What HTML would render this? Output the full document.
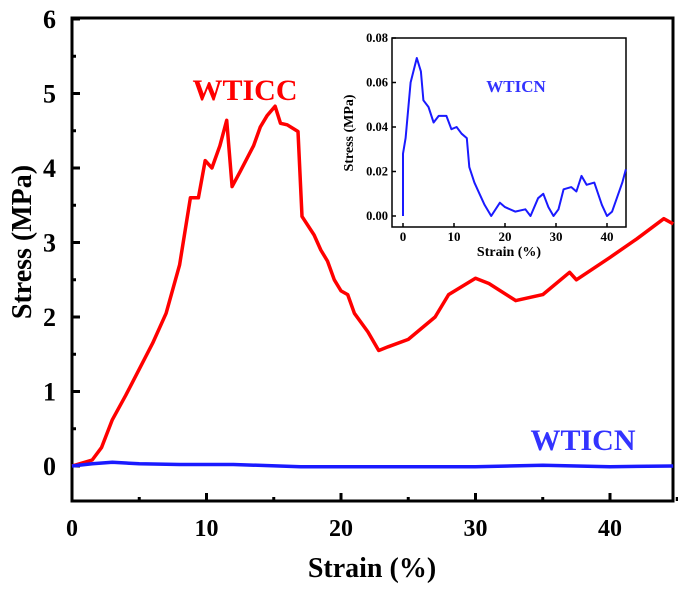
<!DOCTYPE html>
<html><head><meta charset="utf-8"><style>
html,body{margin:0;padding:0;background:#fff;}
svg{display:block;font-family:"Liberation Serif",serif;font-weight:bold;}
</style></head><body>
<svg id="chart" width="678" height="602" viewBox="0 0 678 602"></svg>
<script>
const mainXTicks=[0,10,20,30,40];
const mainYTicks=[0,1,2,3,4,5,6];
const wticcStrain=[0,1.5,2.2,3,4,5,6,7,8,8.8,9.4,9.9,10.4,11,11.5,11.9,12.5,13.5,14,14.5,15.1,15.5,16,16.8,17.1,18,18.5,19,19.5,20,20.5,21,22,22.8,23.5,25,27,28,30,31,33,35,37,37.5,40,42,44,44.7];
const wticcStress=[0,0.08,0.25,0.62,0.95,1.3,1.65,2.05,2.7,3.6,3.6,4.1,4.0,4.3,4.64,3.75,3.95,4.3,4.55,4.7,4.83,4.6,4.58,4.49,3.35,3.1,2.9,2.75,2.5,2.35,2.3,2.05,1.8,1.55,1.6,1.7,2.0,2.3,2.52,2.45,2.22,2.3,2.6,2.5,2.8,3.05,3.32,3.25];
const wticnStrain=[0,1.5,3,5,8,12,17,22,26,30,35,40,44.7];
const wticnStress=[0,0.03,0.05,0.03,0.02,0.02,-0.01,-0.01,-0.01,-0.01,0.01,-0.01,0];
const insetXTicks=[0,10,20,30,40];
const insetYTicks=[0,0.02,0.04,0.06,0.08];
const insetStrain=[0,0,0.5,1.5,2.7,3.5,4,5,6,7,8.5,9.5,10.5,11.5,12.5,13,14,15,16,17.3,19,20,22,24,25,26.5,27.5,28.5,29.5,30.5,31.5,33,34,35,36,37.5,39,40,41,43,43.7];
const insetStress=[0,0.028,0.035,0.06,0.071,0.065,0.052,0.049,0.042,0.045,0.045,0.039,0.04,0.037,0.035,0.022,0.015,0.01,0.005,0,0.006,0.004,0.002,0.003,0,0.008,0.01,0.004,0,0.003,0.012,0.013,0.011,0.018,0.014,0.015,0.005,0,0.002,0.015,0.021];

const NS="http://www.w3.org/2000/svg";
const svg=document.getElementById('chart');
function mk(tag,attrs,parent,text){const e=document.createElementNS(NS,tag);for(const k in attrs)e.setAttribute(k,attrs[k]);if(text!==undefined)e.textContent=text;(parent||svg).appendChild(e);return e;}

const mx=v=>72+v*13.45, my=v=>466-v*74.5;
const frame=mk('rect',{x:72,y:18,width:601,height:483,fill:'none',stroke:'#000','stroke-width':3});


mainXTicks.forEach(t=>{
  const l=mk('line',{x1:mx(t),x2:mx(t),y1:501,y2:493,stroke:'#000','stroke-width':3});
  
  
  const m=mk('line',{x1:mx(t+5),x2:mx(t+5),y1:501,y2:497,stroke:'#000','stroke-width':3});
  
  
  const tx=mk('text',{x:mx(t),y:536,'text-anchor':'middle','font-size':24},svg,String(t));
  
  
});
mainYTicks.forEach(t=>{
  const l=mk('line',{x1:72,x2:80,y1:my(t),y2:my(t),stroke:'#000','stroke-width':3});
  
  
  if(t<6){const m=mk('line',{x1:72,x2:76,y1:my(t+0.5),y2:my(t+0.5),stroke:'#000','stroke-width':3});
  
  }
  const tx=mk('text',{x:56,y:my(t)+9,'text-anchor':'end','font-size':26},svg,String(t));
  
  
});
const xt=mk('text',{x:372,y:577,'text-anchor':'middle','font-size':28},svg,'Strain (%)');


const yt=mk('text',{x:0,y:0,'text-anchor':'middle','font-size':28,transform:'translate(31,242) rotate(-90)'},svg,'Stress (MPa)');



function line(xs,ys,fx,fy,color,w,name){
  const d=xs.map((x,i)=>(i?'L':'M')+fx(x).toFixed(1)+','+fy(ys[i]).toFixed(1)).join('');
  const p=mk('path',{d:d,fill:'none',stroke:color,'stroke-width':w,'stroke-linejoin':'round'});
  
  
}
line(wticcStrain,wticcStress,mx,my,'#ff0000',3.5,'wticc-line');
line(wticnStrain,wticnStress,mx,my,'#1a1aff',3.5,'wticn-line');
const l1=mk('text',{x:245,y:100,'text-anchor':'middle','font-size':30,fill:'#ff0000'},svg,'WTICC');


const l2=mk('text',{x:583,y:450,'text-anchor':'middle','font-size':30,fill:'#3333ff'},svg,'WTICN');



const ix=v=>403+v*5.1, iy=v=>216-v*2225;
const ifr=mk('rect',{x:392,y:38,width:234,height:189,fill:'#fff',stroke:'#000','stroke-width':1.5});


insetXTicks.forEach(t=>{
  const l=mk('line',{x1:ix(t),x2:ix(t),y1:227,y2:223,stroke:'#000','stroke-width':1.5});
  
  
  const tx=mk('text',{x:ix(t),y:241,'text-anchor':'middle','font-size':13},svg,String(t));
  
  
});
insetYTicks.forEach(t=>{
  const l=mk('line',{x1:392,x2:396,y1:iy(t),y2:iy(t),stroke:'#000','stroke-width':1.5});
  
  
  const tx=mk('text',{x:388,y:iy(t)+4,'text-anchor':'end','font-size':12.5},svg,t.toFixed(2));
  
  
});
const ixt=mk('text',{x:509,y:256,'text-anchor':'middle','font-size':14},svg,'Strain (%)');


const iyt=mk('text',{x:0,y:0,'text-anchor':'middle','font-size':14,transform:'translate(353,133) rotate(-90)'},svg,'Stress (MPa)');


line(insetStrain,insetStress,ix,iy,'#1a1aff',2,'inset-wticn-line');
const il=mk('text',{x:516,y:92,'text-anchor':'middle','font-size':17,fill:'#3333ff'},svg,'WTICN');


</script>
</body></html>
